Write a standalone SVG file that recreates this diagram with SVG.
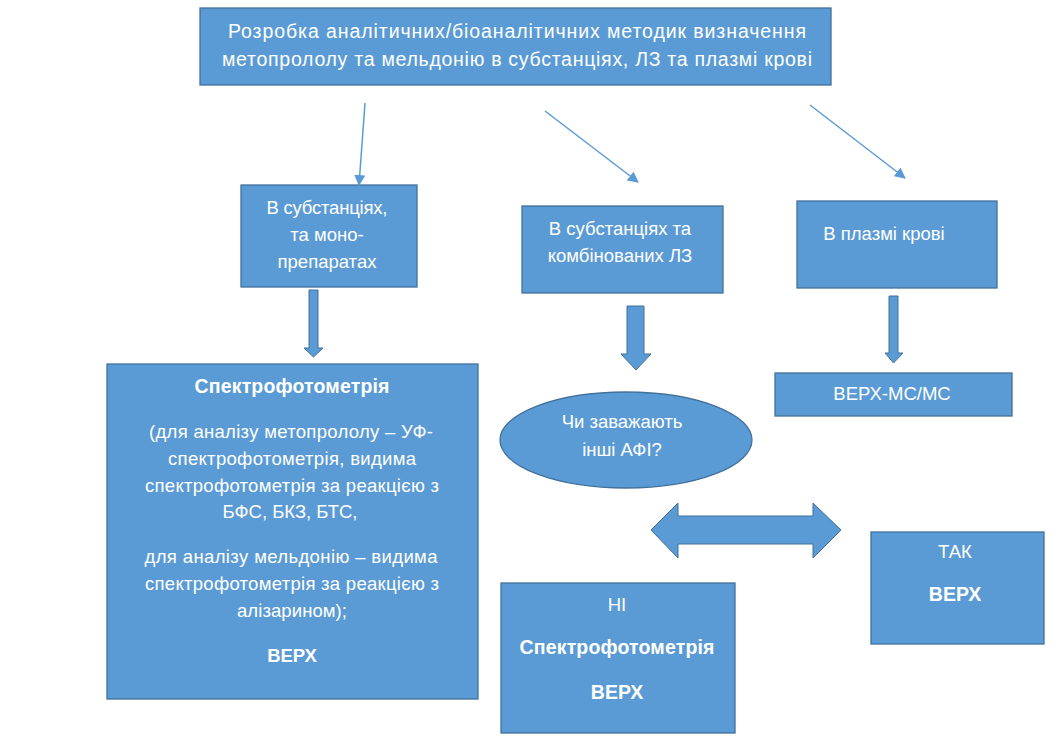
<svg xmlns="http://www.w3.org/2000/svg" width="1063" height="753" viewBox="0 0 1063 753">
<style>
.box{fill:#5B9BD5;stroke:#41719C;stroke-width:1.3}
.blk{fill:#5B9BD5;stroke:#41719C;stroke-width:1}
.t{font-family:"Liberation Sans",Arial,sans-serif;font-size:18.5px;fill:#fff;text-anchor:middle}
.b{font-weight:bold}
.thin{stroke:#5B9BD5;stroke-width:1.5;fill:none}
</style>
<defs>
<marker id="ah" viewBox="0 0 10 10" refX="9" refY="5" markerWidth="11" markerHeight="11" orient="auto" markerUnits="userSpaceOnUse">
<path d="M0,0 L10,5 L0,10 z" fill="#5B9BD5"/>
</marker>
</defs>
<rect width="1063" height="753" fill="#fff"/>

<g id="n-top">
<rect class="box" x="200" y="8" width="631" height="77"/>
<text class="t" x="517" y="38" style="font-size:19.5px" textLength="578">Розробка аналітичних/біоаналітичних методик визначення</text>
<text class="t" x="517" y="66" style="font-size:19.5px" textLength="590">метопрололу та мельдонію в субстанціях, ЛЗ та плазмі крові</text>
</g>

<g id="n-subst">
<rect class="box" x="241" y="185" width="176" height="102"/>
<text class="t" x="327" y="214" textLength="121">В субстанціях,</text>
<text class="t" x="327" y="241">та моно-</text>
<text class="t" x="327" y="268">препаратах</text>
</g>

<g id="n-comb">
<rect class="box" x="522" y="206" width="201" height="87"/>
<text class="t" x="620" y="235">В субстанціях та</text>
<text class="t" x="620" y="262">комбінованих ЛЗ</text>
</g>

<g id="n-plasma">
<rect class="box" x="797" y="201" width="200" height="87"/>
<text class="t" x="884" y="240">В плазмі крові</text>
</g>

<g id="n-spectro">
<rect class="box" x="107" y="364" width="371" height="335"/>
<text class="t b" x="292" y="393" style="font-size:19.5px" textLength="195">Спектрофотометрія</text>
<text class="t" x="291" y="438" textLength="284">(для аналізу метопрололу – УФ-</text>
<text class="t" x="292" y="465" textLength="248">спектрофотометрія, видима</text>
<text class="t" x="292" y="492" textLength="294">спектрофотометрія за реакцією з</text>
<text class="t" x="290" y="518">БФС, БКЗ, БТС,</text>
<text class="t" x="291" y="563" textLength="293">для аналізу мельдонію – видима</text>
<text class="t" x="292" y="590" textLength="294">спектрофотометрія за реакцією з</text>
<text class="t" x="292" y="617" textLength="110">алізарином);</text>
<text class="t b" x="292" y="662">ВЕРХ</text>
</g>

<g id="n-question">
<ellipse class="box" cx="626" cy="440" rx="126" ry="48"/>
<text class="t" x="622" y="428">Чи заважають</text>
<text class="t" x="622" y="456">інші АФІ?</text>
</g>

<g id="n-hplc-ms">
<rect class="box" x="775" y="373" width="237" height="43"/>
<text class="t" x="892" y="400">ВЕРХ-МС/МС</text>
</g>

<g id="n-no">
<rect class="box" x="501" y="583" width="234" height="150"/>
<text class="t" x="617" y="611">НІ</text>
<text class="t b" x="617" y="654" style="font-size:19.5px" textLength="195">Спектрофотометрія</text>
<text class="t b" x="617" y="699" style="font-size:19.5px">ВЕРХ</text>
</g>

<g id="n-yes">
<rect class="box" x="871" y="532" width="173" height="112"/>
<text class="t" x="955" y="558">ТАК</text>
<text class="t b" x="955" y="601" style="font-size:19.5px">ВЕРХ</text>
</g>

<g id="connectors">
<line class="thin" x1="365" y1="103" x2="359" y2="185" marker-end="url(#ah)"/>
<line class="thin" x1="545" y1="111" x2="638" y2="182" marker-end="url(#ah)"/>
<line class="thin" x1="810" y1="105" x2="905" y2="178" marker-end="url(#ah)"/>
<polygon class="blk" points="309,290 318,290 318,348 323,348 313.5,357 304,348 309,348"/>
<polygon class="blk" points="627,306 644,306 644,354 651,354 636,370 621,354 627,354"/>
<polygon class="blk" points="889,296 898,296 898,353 903,353 893.5,363 885,353 889,353"/>
<polygon class="blk" points="651,530 678,503 678,516 813,516 813,503 841,530 813,558 813,544 678,544 678,558"/>
</g>
</svg>
